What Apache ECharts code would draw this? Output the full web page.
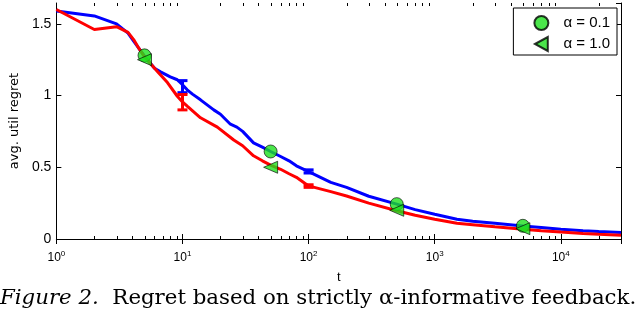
<!DOCTYPE html>
<html>
<head>
<meta charset="utf-8">
<script src="https://cdn.jsdelivr.net/npm/echarts@6/dist/echarts.min.js"></script>
<style>
html,body{margin:0;padding:0;background:#fff;}
#chart{width:640px;height:312px;}
</style>
</head>
<body>
<div id="chart"></div>
<script>
// ---- data ----
var tBlue = [1, 2, 3, 3.7, 4.1, 5, 6, 6.7, 8, 9.1, 10, 10.9, 12, 13.9, 17.7, 20, 24, 27, 30, 36.6, 43, 50, 60, 70, 80, 100, 150, 200, 300, 500, 700, 1000, 1500, 2000, 3000, 5000, 7000, 10000, 15000, 20000, 30000];
var vBlue = [1.59, 1.555, 1.50, 1.435, 1.38, 1.275, 1.19, 1.165, 1.13, 1.11, 1.075, 1.04, 1.01, 0.97, 0.90, 0.87, 0.80, 0.78, 0.75, 0.67, 0.64, 0.61, 0.575, 0.545, 0.51, 0.47, 0.395, 0.36, 0.298, 0.243, 0.205, 0.172, 0.138, 0.124, 0.11, 0.09, 0.08, 0.068, 0.058, 0.052, 0.045];
var tRed = [1, 2, 3, 3.7, 4.1, 4.5, 5, 6.3, 7.6, 9.1, 10, 10.9, 13.9, 18.9, 25.5, 30, 36.6, 43, 50, 60, 70, 80, 100, 150, 200, 300, 500, 700, 1000, 1500, 2000, 3000, 5000, 7000, 10000, 15000, 20000, 30000];
var vRed = [1.60, 1.46, 1.48, 1.44, 1.39, 1.33, 1.27, 1.17, 1.09, 0.995, 0.955, 0.926, 0.845, 0.78, 0.69, 0.65, 0.58, 0.545, 0.515, 0.486, 0.455, 0.43, 0.37, 0.33, 0.30, 0.25, 0.197, 0.165, 0.138, 0.11, 0.10, 0.085, 0.068, 0.058, 0.048, 0.038, 0.033, 0.027];
var errT = [10, 100];
var errBlueLow = [1.02, 0.46];
var errBlueHigh = [1.104, 0.482];
var errRedLow = [0.90, 0.36];
var errRedHigh = [1.007, 0.378];
var markT = [5, 50, 500, 5000];
var circleVals = [1.28, 0.61, 0.243, 0.092];
var triVals = [1.25, 0.50, 0.20, 0.072];
var legendNames = ['α = 0.1', 'α = 1.0'];
var yTicks = [0, 0.5, 1, 1.5];
var minorBase = [2, 3, 4, 5, 6, 7, 8, 9];
var decades = [1, 10, 100, 1000, 10000];
var captionItalic = 'Figure 2.';
var captionRest = '  Regret based on strictly α-informative feedback.';

function zip(a, b) { return a.map(function (x, i) { return [x, b[i]]; }); }

var minorTicks = [];
decades.forEach(function (d) {
  minorBase.forEach(function (m) { if (d * m <= 30000) minorTicks.push([d * m]); });
});

var chart = echarts.init(document.getElementById('chart'), null, { renderer: 'canvas' });

var axisLineStyle = { color: '#000', width: 1 };
var font = 'Liberation Sans, Arial, sans-serif';
var serif = 'DejaVu Serif, serif';

function errItem(color) {
  return function (params, api) {
    var x = api.value(0);
    var lo = api.coord([x, api.value(1)]);
    var hi = api.coord([x, api.value(2)]);
    var w = 5;
    var st = { stroke: color, lineWidth: 3 };
    return {
      type: 'group',
      children: [
        { type: 'line', shape: { x1: lo[0], y1: lo[1], x2: hi[0], y2: hi[1] }, style: st },
        { type: 'line', shape: { x1: lo[0] - w, y1: lo[1], x2: lo[0] + w, y2: lo[1] }, style: st },
        { type: 'line', shape: { x1: hi[0] - w, y1: hi[1], x2: hi[0] + w, y2: hi[1] }, style: st }
      ]
    };
  };
}

var option = {
  animation: false,
  backgroundColor: '#fff',
  grid: { left: 55, right: 19, top: 3, bottom: 73, containLabel: false },
  title: {
    text: '{i|' + captionItalic + '}{r|' + captionRest + '}',
    left: 0, top: 288,
    padding: 0,
    textStyle: {
      fontWeight: 'normal',
      rich: {
        i: { fontFamily: serif, fontStyle: 'italic', fontWeight: 'normal', fontSize: 21.3, color: '#000' },
        r: { fontFamily: serif, fontWeight: 'normal', fontSize: 21.3, color: '#000' }
      }
    }
  },
  legend: {
    orient: 'vertical',
    right: 23, top: 8,
    data: [
      { name: legendNames[0], icon: 'circle' },
      { name: legendNames[1], icon: 'path://M0,6 L11,0 L11,12 Z' }
    ],
    backgroundColor: '#fff',
    borderColor: '#000',
    borderWidth: 1,
    borderRadius: 0,
    padding: [7, 7, 3, 20],
    itemWidth: 14,
    itemHeight: 14,
    itemGap: 5,
    textStyle: { fontFamily: font, fontSize: 15, color: '#000', padding: [0, 0, 0, 10] }
  },
  xAxis: [{
    type: 'log', logBase: 10, min: 1, max: 30000,
    name: 't', nameLocation: 'middle', nameGap: 32,
    nameTextStyle: { fontFamily: font, fontSize: 13, color: '#000' },
    axisLine: { show: true, lineStyle: axisLineStyle },
    axisTick: { show: true, inside: true, length: 5, lineStyle: axisLineStyle },
    splitLine: { show: false },
    axisLabel: {
      margin: 11,
      showMaxLabel: false,
      formatter: function (v) {
        var e = Math.round(Math.log10(v));
        return '{b|10}{s|' + e + '}';
      },
      rich: {
        b: { fontFamily: font, fontSize: 12, color: '#000', verticalAlign: 'bottom', lineHeight: 14 },
        s: { fontFamily: font, fontSize: 8, color: '#000', verticalAlign: 'top', lineHeight: 14, padding: [0, 0, 6, 0] }
      }
    }
  }, {
    type: 'log', logBase: 10, min: 1, max: 30000, position: 'top',
    axisLine: { show: true, lineStyle: axisLineStyle },
    axisTick: { show: true, inside: true, length: 5, lineStyle: axisLineStyle },
    axisLabel: { show: false },
    splitLine: { show: false }
  }],
  yAxis: [{
    type: 'value', min: 0, max: 1.645, interval: 0.5,
    name: 'avg. util regret', nameLocation: 'middle', nameGap: 30,
    nameTextStyle: { fontFamily: 'DejaVu Sans, sans-serif', fontSize: 13, color: '#000' },
    axisLine: { show: true, lineStyle: axisLineStyle },
    axisTick: { show: true, inside: true, length: 5, lineStyle: axisLineStyle },
    splitLine: { show: false },
    axisLabel: {
      fontFamily: font, fontSize: 14, color: '#000', margin: 5,
      showMaxLabel: false,
      formatter: function (v) { return yTicks.indexOf(v) >= 0 ? String(v) : ''; }
    }
  }, {
    type: 'value', min: 0, max: 1.645, interval: 0.5, position: 'right',
    axisLine: { show: true, lineStyle: axisLineStyle },
    axisTick: { show: true, inside: true, length: 5, lineStyle: axisLineStyle },
    axisLabel: { show: false },
    splitLine: { show: false }
  }],
  series: [
    {
      name: 'blueLine', type: 'line', data: zip(tBlue, vBlue), showSymbol: false,
      lineStyle: { color: '#0000ff', width: 3 }, z: 2, silent: true
    },
    {
      name: 'redLine', type: 'line', data: zip(tRed, vRed), showSymbol: false,
      lineStyle: { color: '#ff0000', width: 3 }, z: 3, silent: true
    },
    {
      name: 'blueErr', type: 'custom', renderItem: errItem('#0000ff'), z: 2,
      data: errT.map(function (t, i) { return [t, errBlueLow[i], errBlueHigh[i]]; })
    },
    {
      name: 'redErr', type: 'custom', renderItem: errItem('#ff0000'), z: 3,
      data: errT.map(function (t, i) { return [t, errRedLow[i], errRedHigh[i]]; })
    },
    {
      name: 'minorTicks', type: 'custom', z: 1, silent: true,
      renderItem: function (params, api) {
        var b = api.coord([api.value(0), 0]);
        var tp = api.coord([api.value(0), 1.645]);
        var st = { stroke: '#000', lineWidth: 1 };
        return {
          type: 'group', children: [
            { type: 'line', shape: { x1: Math.round(b[0]) + 0.5, y1: b[1], x2: Math.round(b[0]) + 0.5, y2: b[1] - 3 }, style: st },
            { type: 'line', shape: { x1: Math.round(tp[0]) + 0.5, y1: tp[1], x2: Math.round(tp[0]) + 0.5, y2: tp[1] + 3 }, style: st }
          ]
        };
      },
      data: minorTicks
    },
    {
      name: legendNames[0], type: 'scatter', data: zip(markT, circleVals),
      symbol: 'circle', symbolSize: 13, z: 5,
      itemStyle: { color: '#1ee01e', borderColor: '#000', borderWidth: 0.8 }
    },
    {
      name: legendNames[1], type: 'scatter', data: zip(markT, triVals),
      symbol: 'triangle', symbolSize: [12, 14], symbolRotate: 90, z: 6,
      itemStyle: { color: '#1ee01e', borderColor: '#000', borderWidth: 0.8 }
    }
  ]
};
chart.setOption(option);
</script>
</body>
</html>
